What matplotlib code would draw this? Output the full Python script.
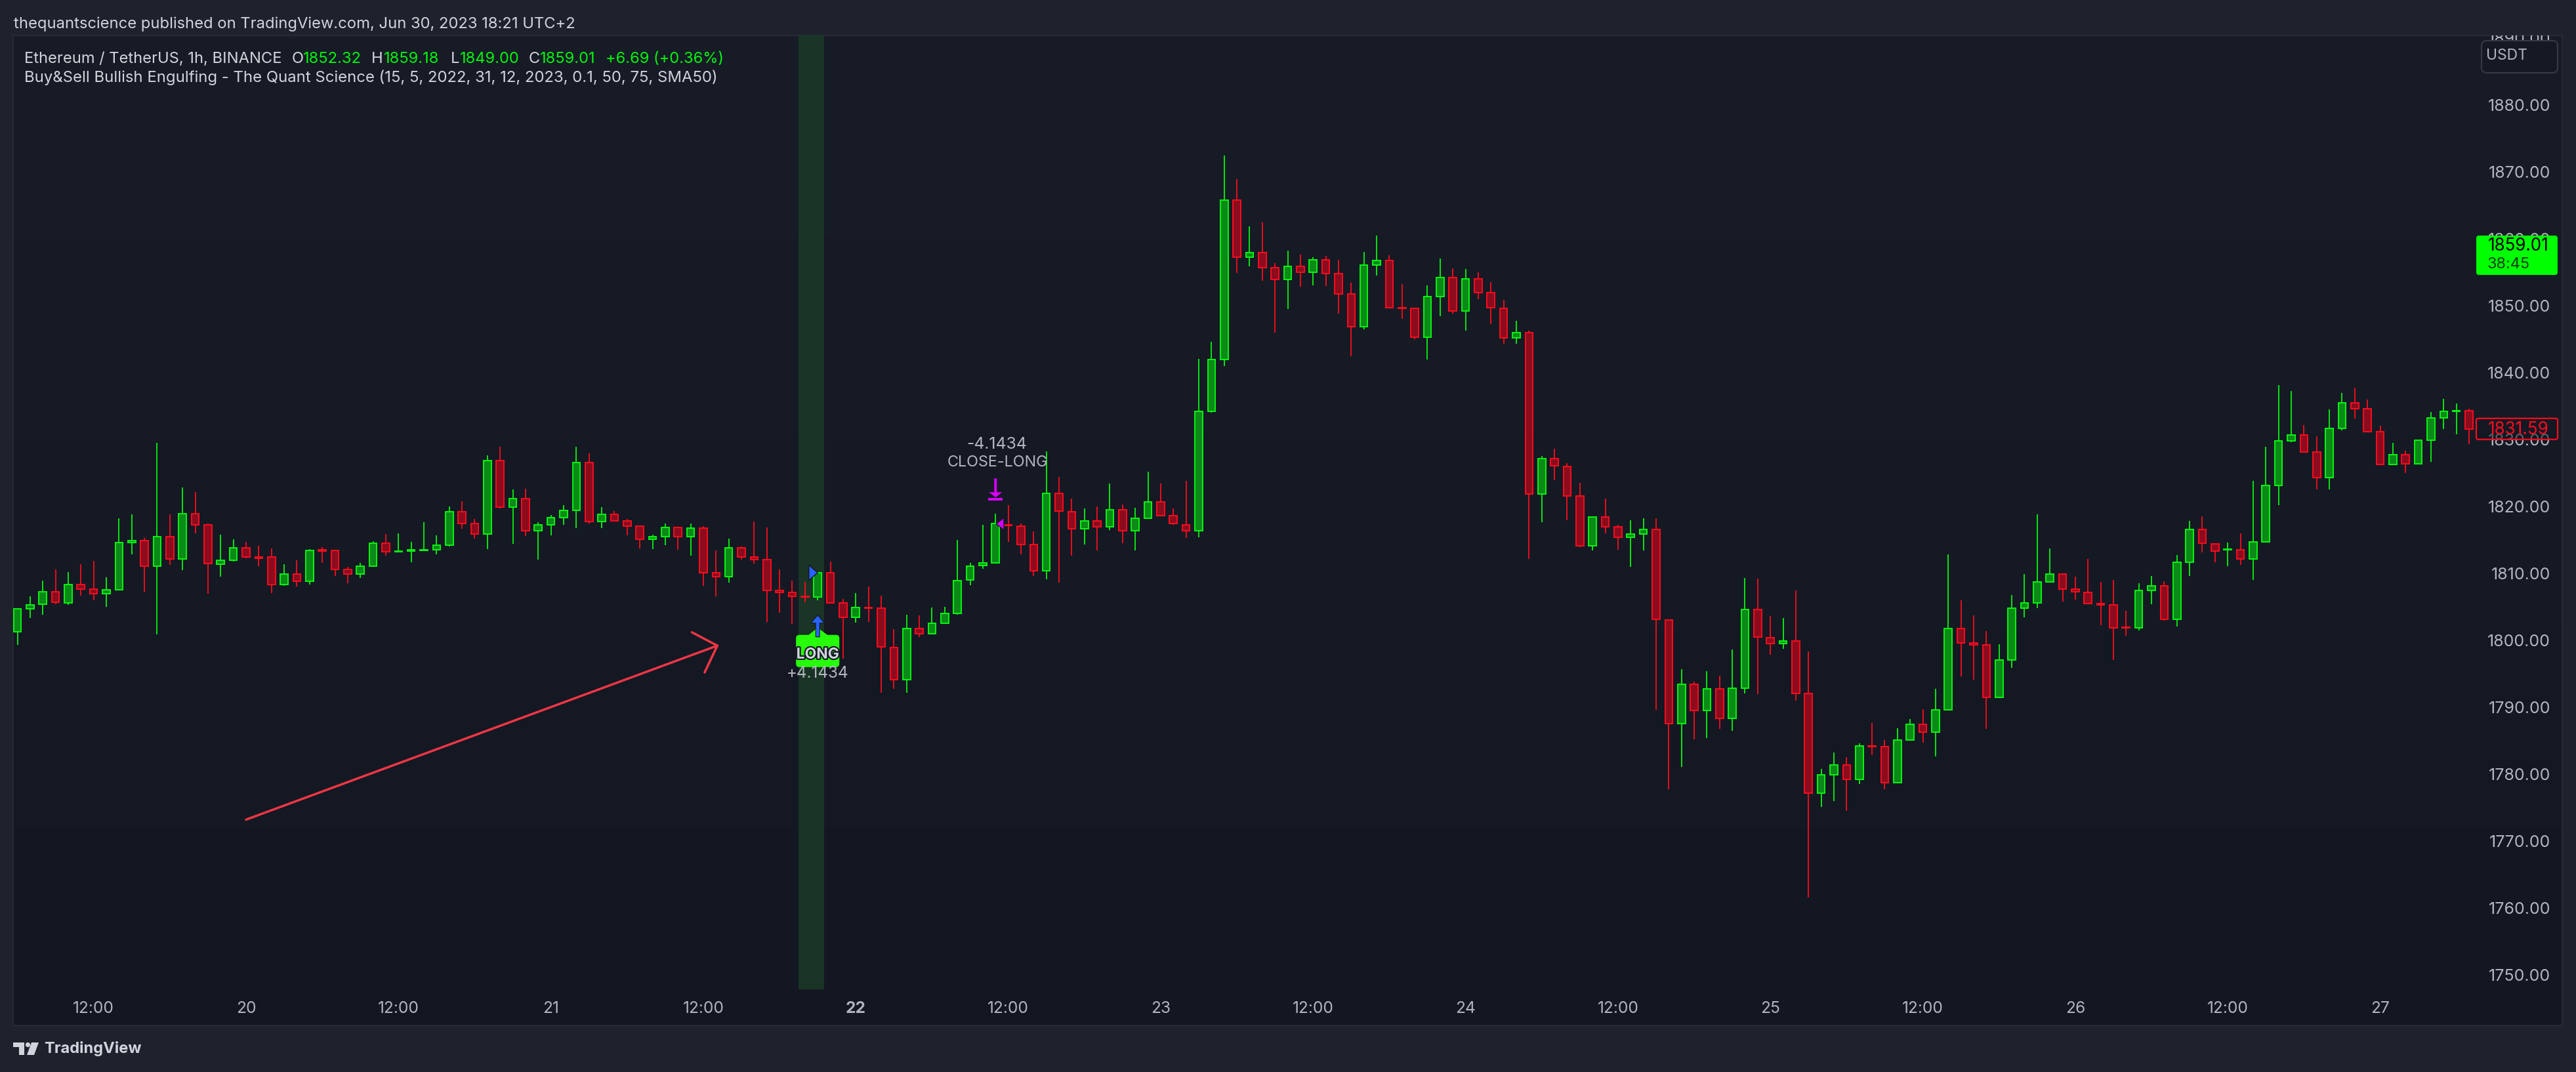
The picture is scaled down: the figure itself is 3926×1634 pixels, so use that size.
import numpy as np
import pandas as pd
import matplotlib
matplotlib.use("Agg")
import matplotlib.pyplot as plt
import matplotlib.patches as mpatches
import matplotlib.transforms as mtransforms
import matplotlib.patheffects as pe
from matplotlib.colors import LinearSegmentedColormap

plt.rcParams["font.family"] = ["Inter", "DejaVu Sans"]

W, H = 3926, 1634

# ETH/USDT 1h candles (Binance), 19 May 06:00 -> 27 May 07:00, UTC+2
times = pd.date_range("2023-05-19 06:00", periods=194, freq="h")
opens = [
    1801.3, 1804.7, 1805.4, 1807.3, 1805.6, 1808.3, 1807.6, 1807.0, 1807.5, 1814.6, 1814.9, 1811.1,
    1815.5, 1812.2, 1818.9, 1817.3, 1811.4, 1812.0, 1813.8, 1812.4, 1812.4, 1808.3, 1809.9, 1808.8,
    1813.5, 1813.4, 1810.6, 1809.9, 1811.1, 1814.5, 1813.2, 1813.3, 1813.4, 1813.5, 1814.2, 1819.2,
    1817.4, 1815.9, 1826.9, 1819.9, 1821.2, 1816.4, 1817.3, 1818.3, 1819.4, 1826.6, 1817.7, 1818.8,
    1817.8, 1817.1, 1815.1, 1815.5, 1816.9, 1815.5, 1816.8, 1810.1, 1809.5, 1813.8, 1812.4, 1812.1,
    1807.4, 1807.2, 1806.6, 1806.5, 1810.1, 1805.6, 1803.4, 1804.9, 1804.8, 1798.9, 1794.1, 1801.8,
    1801.0, 1802.5, 1804.0, 1809.0, 1811.2, 1811.6, 1817.3, 1817.1, 1814.3, 1810.4, 1822.0, 1819.2,
    1816.7, 1817.8, 1817.0, 1819.5, 1816.4, 1818.2, 1820.7, 1818.6, 1817.3, 1816.4, 1834.2, 1842.0,
    1865.8, 1857.3, 1857.9, 1855.7, 1853.9, 1855.9, 1855.0, 1856.9, 1854.8, 1851.8, 1846.9, 1856.1,
    1856.8, 1849.7, 1849.6, 1845.3, 1851.4, 1854.2, 1849.2, 1854.0, 1852.0, 1849.6, 1845.2, 1846.0,
    1821.9, 1827.2, 1826.0, 1821.6, 1814.1, 1818.4, 1817.0, 1815.4, 1815.9, 1816.6, 1803.0, 1787.5,
    1793.4, 1789.5, 1792.7, 1788.3, 1792.8, 1804.6, 1800.4, 1799.5, 1799.9, 1792.1, 1777.2, 1779.9,
    1781.4, 1779.2, 1784.2, 1784.1, 1778.7, 1785.1, 1787.4, 1786.3, 1789.6, 1801.8, 1799.6, 1799.3,
    1791.5, 1797.1, 1804.8, 1805.6, 1808.7, 1809.9, 1807.6, 1807.2, 1805.5, 1805.3, 1802.0, 1801.9,
    1807.4, 1808.1, 1803.1, 1811.7, 1816.6, 1814.4, 1813.5, 1813.5, 1812.2, 1814.7, 1823.1, 1829.8,
    1830.7, 1828.1, 1824.3, 1831.7, 1835.5, 1834.6, 1831.2, 1826.3, 1827.7, 1826.4, 1829.9, 1833.2,
    1834.2, 1834.3,
]
highs = [
    1804.7, 1806.6, 1808.9, 1810.6, 1810.2, 1811.4, 1811.9, 1809.4, 1818.2, 1818.8, 1815.3, 1829.5,
    1818.8, 1822.8, 1822.2, 1817.4, 1815.8, 1815.1, 1814.7, 1814.1, 1813.7, 1811.4, 1812.0, 1813.6,
    1813.9, 1813.5, 1811.0, 1811.6, 1814.8, 1815.9, 1816.0, 1814.7, 1817.6, 1815.7, 1820.0, 1820.8,
    1818.1, 1827.6, 1828.9, 1822.5, 1822.6, 1817.6, 1818.7, 1820.2, 1828.9, 1827.9, 1819.9, 1819.3,
    1818.1, 1817.2, 1815.8, 1817.4, 1817.0, 1817.4, 1817.1, 1813.4, 1815.2, 1814.0, 1817.7, 1816.9,
    1810.6, 1808.9, 1808.7, 1810.2, 1811.8, 1806.2, 1807.1, 1808.0, 1806.7, 1801.7, 1803.8, 1803.7,
    1804.9, 1805.0, 1815.0, 1811.6, 1817.3, 1818.9, 1820.2, 1817.4, 1816.3, 1828.2, 1824.4, 1821.2,
    1819.7, 1820.0, 1823.4, 1820.3, 1819.8, 1825.2, 1823.4, 1819.7, 1823.8, 1842.1, 1844.6, 1872.4,
    1868.9, 1861.9, 1862.4, 1856.4, 1858.2, 1857.6, 1857.3, 1857.4, 1856.9, 1853.4, 1858.0, 1860.5,
    1857.5, 1853.2, 1849.7, 1853.0, 1857.1, 1855.6, 1855.5, 1855.0, 1853.5, 1850.9, 1847.7, 1846.3,
    1827.5, 1828.6, 1826.5, 1823.5, 1818.4, 1821.2, 1817.3, 1817.9, 1818.2, 1818.2, 1803.1, 1795.7,
    1793.8, 1795.4, 1794.7, 1798.6, 1809.3, 1809.2, 1803.6, 1803.3, 1807.4, 1798.3, 1780.8, 1783.2,
    1782.5, 1784.6, 1787.6, 1785.1, 1786.9, 1788.2, 1789.7, 1792.7, 1812.8, 1806.0, 1803.7, 1801.4,
    1799.4, 1806.8, 1809.9, 1818.8, 1813.7, 1810.0, 1809.5, 1812.2, 1808.7, 1809.0, 1804.4, 1808.5,
    1809.6, 1808.8, 1812.7, 1817.8, 1818.5, 1814.5, 1814.6, 1816.0, 1823.8, 1828.9, 1838.1, 1837.3,
    1832.2, 1830.5, 1834.5, 1837.0, 1837.7, 1836.0, 1832.1, 1829.5, 1828.3, 1829.9, 1834.1, 1836.1,
    1835.4, 1834.6,
]
lows = [
    1799.3, 1803.3, 1803.8, 1805.4, 1805.3, 1806.7, 1806.0, 1805.0, 1807.4, 1812.8, 1807.3, 1800.9,
    1811.3, 1810.5, 1816.0, 1807.0, 1809.5, 1811.8, 1812.3, 1811.1, 1807.1, 1808.1, 1808.0, 1808.3,
    1811.6, 1809.6, 1808.5, 1809.3, 1811.0, 1812.6, 1813.1, 1811.7, 1813.4, 1812.8, 1814.0, 1816.7,
    1815.2, 1813.6, 1819.7, 1814.4, 1815.6, 1812.1, 1815.7, 1817.3, 1816.8, 1817.4, 1816.8, 1817.7,
    1815.7, 1813.7, 1813.6, 1814.2, 1813.5, 1812.6, 1808.1, 1806.6, 1808.6, 1812.1, 1811.5, 1802.7,
    1804.1, 1802.4, 1805.7, 1806.0, 1805.6, 1797.3, 1802.6, 1802.7, 1792.2, 1792.7, 1792.2, 1800.5,
    1800.9, 1802.5, 1803.8, 1808.2, 1810.7, 1811.5, 1814.7, 1812.8, 1809.6, 1809.1, 1808.6, 1812.6,
    1814.3, 1813.4, 1816.5, 1814.5, 1813.4, 1818.1, 1818.6, 1817.3, 1815.3, 1815.4, 1834.0, 1841.0,
    1854.9, 1855.9, 1853.7, 1846.0, 1849.5, 1852.8, 1853.0, 1852.9, 1848.8, 1842.4, 1846.5, 1854.5,
    1849.6, 1848.0, 1845.0, 1842.0, 1848.4, 1848.8, 1846.3, 1851.0, 1847.3, 1844.3, 1844.3, 1812.2,
    1817.6, 1823.9, 1817.9, 1813.9, 1813.4, 1816.0, 1813.5, 1811.0, 1813.4, 1789.6, 1777.7, 1781.1,
    1785.2, 1785.4, 1786.8, 1786.5, 1792.1, 1792.0, 1797.8, 1798.7, 1791.0, 1761.6, 1775.1, 1776.0,
    1774.5, 1778.5, 1782.8, 1777.7, 1778.6, 1785.0, 1784.7, 1782.6, 1789.5, 1794.6, 1794.1, 1786.8,
    1791.4, 1795.9, 1803.4, 1804.8, 1808.6, 1805.8, 1806.1, 1805.4, 1802.3, 1797.1, 1800.7, 1801.5,
    1805.4, 1802.9, 1802.1, 1809.6, 1813.1, 1811.7, 1811.1, 1811.3, 1809.0, 1814.6, 1820.2, 1829.6,
    1828.0, 1822.5, 1822.5, 1831.4, 1833.1, 1831.1, 1826.2, 1826.2, 1825.0, 1826.3, 1826.7, 1831.6,
    1830.8, 1829.3,
]
closes = [
    1804.7, 1805.3, 1807.3, 1805.7, 1808.3, 1807.6, 1807.0, 1807.5, 1814.6, 1814.9, 1811.1, 1815.5,
    1812.2, 1818.9, 1817.3, 1811.5, 1812.0, 1813.8, 1812.4, 1812.3, 1808.3, 1809.9, 1808.8, 1813.4,
    1813.3, 1810.6, 1809.9, 1811.1, 1814.5, 1813.2, 1813.3, 1813.5, 1813.5, 1814.2, 1819.2, 1817.4,
    1815.9, 1826.9, 1819.9, 1821.2, 1816.4, 1817.3, 1818.3, 1819.4, 1826.6, 1817.7, 1818.8, 1817.8,
    1817.1, 1815.1, 1815.5, 1816.9, 1815.5, 1816.8, 1810.1, 1809.5, 1813.8, 1812.4, 1812.1, 1807.4,
    1807.2, 1806.6, 1806.5, 1810.1, 1805.6, 1803.4, 1804.9, 1804.8, 1799.0, 1794.1, 1801.8, 1801.0,
    1802.5, 1804.0, 1808.9, 1811.1, 1811.6, 1817.4, 1817.2, 1814.3, 1810.4, 1822.0, 1819.3, 1816.7,
    1817.8, 1817.0, 1819.5, 1816.4, 1818.2, 1820.7, 1818.6, 1817.4, 1816.4, 1834.2, 1842.0, 1865.8,
    1857.3, 1857.9, 1855.7, 1853.9, 1855.9, 1855.0, 1856.9, 1854.8, 1851.8, 1846.9, 1856.1, 1856.8,
    1849.7, 1849.6, 1845.3, 1851.4, 1854.2, 1849.2, 1854.0, 1852.0, 1849.7, 1845.2, 1846.0, 1821.9,
    1827.2, 1826.1, 1821.6, 1814.1, 1818.4, 1817.0, 1815.4, 1815.9, 1816.6, 1803.1, 1787.5, 1793.4,
    1789.5, 1792.7, 1788.3, 1792.8, 1804.6, 1800.5, 1799.5, 1799.9, 1792.1, 1777.2, 1779.9, 1781.4,
    1779.2, 1784.2, 1784.1, 1778.7, 1785.1, 1787.4, 1786.3, 1789.6, 1801.8, 1799.6, 1799.3, 1791.5,
    1797.1, 1804.8, 1805.6, 1808.7, 1809.9, 1807.6, 1807.3, 1805.5, 1805.3, 1801.9, 1801.9, 1807.4,
    1808.1, 1803.1, 1811.7, 1816.6, 1814.5, 1813.3, 1813.6, 1812.2, 1814.7, 1823.1, 1829.8, 1830.7,
    1828.1, 1824.3, 1831.7, 1835.5, 1834.6, 1831.2, 1826.3, 1827.7, 1826.4, 1829.9, 1833.2, 1834.2,
    1834.3, 1831.6,
]

price_ticks = list(range(1750, 1900, 10))

# live bar shown in the legend / price scale
cur_open, cur_high, cur_low, cur_close = 1852.32, 1859.18, 1849.00, 1859.01
cur_change, cur_pct = 6.69, 0.36
countdown = "38:45"
last_visible = 1831.59

# strategy signals
signal_bars = [62, 63]
entry_idx, exit_idx = 63, 77
trade_profit = 4.1434

# hand drawn arrow (bar index, price)
arrow_tail = (18.0, 1773.2)
arrow_tip = (55.1, 1799.2)
arrow_wings = [(53.1, 1801.2), (54.1, 1795.2)]

GREEN_EDGE, GREEN_FILL = "#08f510", "#0b8a18"
RED_EDGE, RED_FILL = "#f80d1d", "#8c0c1e"
TXT, AXTXT = "#d1d4dc", "#b2b5be"
LIME = "#00f50a"

fig = plt.figure(figsize=(W / 100, H / 100), dpi=100, facecolor="#1e222d")
renderer = fig.canvas.get_renderer()


def rect(l, t, r, b):
    return [l / W, 1 - b / H, (r - l) / W, (b - t) / H]


def size_for(s, width_px, weight="normal"):
    t = fig.text(0, 0, s, fontsize=20, fontweight=weight)
    w = t.get_window_extent(renderer).width
    t.remove()
    return 20 * width_px / w


# pane background
bg = fig.add_axes(rect(20, 54, 3905, 1563), zorder=0)
grad = np.linspace(0, 1, 256).reshape(-1, 1)
bg.imshow(grad, cmap=LinearSegmentedColormap.from_list("pane", ["#181c27", "#131722"]),
          aspect="auto", extent=[0, 1, 0, 1])
bg.set_xticks([])
bg.set_yticks([])
for s in bg.spines.values():
    s.set_color("#2a2e39")
    s.set_linewidth(1.2)

# price pane
ax = fig.add_axes(rect(20, 54, 3770, 1508), zorder=1)
ax.set_facecolor("none")
for s in ax.spines.values():
    s.set_visible(False)
ax.set_xlim(-0.336, 193.36)
ax.set_ylim(1747.84, 1890.39)

x = np.arange(len(opens))
o, h, l, c = map(np.array, (opens, highs, lows, closes))
up = c >= o
edge = np.where(up, GREEN_EDGE, RED_EDGE)
fill = np.where(up, GREEN_FILL, RED_FILL)
body_lo = np.minimum(o, c)
body_h = np.maximum(np.abs(c - o), 0.08)

for i in signal_bars:
    ax.axvspan(i - 0.5, i + 0.5, color="#1b3a26", alpha=0.85, lw=0, zorder=0.5)

ax.vlines(x, l, h, colors=edge, lw=1.3, zorder=2)
ax.bar(x, body_h, bottom=body_lo, width=0.6, color=fill, edgecolor=edge, linewidth=1.4, zorder=3)

# axes labels
ysize = size_for("1880.00", 95)
xsize = size_for("12:00", 63)
ax.yaxis.tick_right()
ax.set_yticks(price_ticks, [f"{p:.2f}" for p in price_ticks])
ax.tick_params(axis="y", length=0, pad=117 * 0.72, labelsize=ysize, labelcolor=AXTXT)
for lab in ax.get_yticklabels():
    lab.set_ha("right")
top_lab = ax.get_yticklabels()[-1]
top_lab.set_clip_on(True)
top_lab.set_clip_box(bg.bbox)

tick_idx = [i for i, t in enumerate(times) if t.hour in (0, 12)]
tick_lab = [str(times[i].day) if times[i].hour == 0 else "12:00" for i in tick_idx]
ax.set_xticks(tick_idx, tick_lab)
ax.tick_params(axis="x", length=0, pad=30 * 0.72, labelsize=xsize, labelcolor=AXTXT)
for i, lab in zip(tick_idx, ax.get_xticklabels()):
    lab.set_va("center")
    if times[i].hour == 0 and times[i].dayofweek == 0:
        lab.set_fontweight("bold")


# markers anchored to candles, shapes in pixels (y down)
def px_tr(i, price):
    return mtransforms.Affine2D().scale(1, -1) + mtransforms.ScaledTranslation(i, price, ax.transData)


def px_poly(verts, i, price, color, edgecolor=None, lw=0.0, z=6):
    ax.add_patch(mpatches.Polygon(verts, closed=True, transform=px_tr(i, price), facecolor=color,
                                  edgecolor=edgecolor or color, lw=lw, clip_on=False, zorder=z))


def px_text(i, price, dy, s, width, color, dx=0.0, **kw):
    tr = mtransforms.offset_copy(ax.transData, fig=fig, x=dx, y=-dy, units="dots")
    return ax.text(i, price, s, transform=tr, ha="center", va="center", color=color,
                   fontsize=size_for(s, width), zorder=8, clip_on=False, **kw)


# entry
lo_e = lows[entry_idx]
lbl = mpatches.FancyBboxPatch((-33, 53), 66, 49, boxstyle="round,pad=0,rounding_size=5",
                              transform=px_tr(entry_idx, lo_e), facecolor="#27ff0a", lw=0,
                              clip_on=False, zorder=6)
ax.add_patch(lbl)
px_poly([(-15, 54), (0, 42), (16, 54)], entry_idx, lo_e, "#27ff0a")
px_poly([(0, 23), (10.5, 35), (3, 35), (3, 56), (-3, 56), (-3, 35), (-10.5, 35)],
        entry_idx, lo_e, "#2962ff", edgecolor="#131722", lw=0.8, z=7)
px_text(entry_idx, lo_e, 83, "LONG", 65, TXT, fontweight="bold",
        path_effects=[pe.withStroke(linewidth=3, foreground="#131722")])
px_text(entry_idx, lo_e, 112, f"{trade_profit:+.4f}", 95, AXTXT)
px_poly([(-13.4, -11.6), (0, 0), (-13.4, 11.6)], entry_idx, closes[entry_idx], "#2962ff",
        edgecolor="#131722", lw=1.0, z=7)

# exit
hi_x = highs[exit_idx]
px_poly([(-2, -54), (2, -54), (2, -33), (10, -33), (0, -25), (-10, -33), (-2, -33)],
        exit_idx, hi_x, "#d500f9")
px_poly([(-11, -23.9), (11, -23.9), (11, -20.5), (-11, -20.5)], exit_idx, hi_x, "#d500f9")
px_poly([(1, 0), (12.8, -9.5), (12.8, 9.5)], exit_idx, closes[exit_idx], "#d500f9",
        edgecolor="#131722", lw=1.0, z=7)
px_text(exit_idx, hi_x, -78, "CLOSE-LONG", 154, AXTXT, dx=2.8)
px_text(exit_idx, hi_x, -106, f"{-trade_profit:.4f}", 92, AXTXT, dx=1.8)

# hand drawn red arrow
ax.plot([arrow_tail[0], arrow_tip[0]], [arrow_tail[1], arrow_tip[1]], color="#f23645", lw=2.5,
        solid_capstyle="round", zorder=5)
for wx, wy in arrow_wings:
    ax.plot([wx, arrow_tip[0]], [wy, arrow_tip[1]], color="#f23645", lw=2.5,
            solid_capstyle="round", zorder=5)

# overlay in pixel coordinates
ov = fig.add_axes([0, 0, 1, 1], zorder=5)
ov.set_xlim(0, W)
ov.set_ylim(H, 0)
ov.set_facecolor("none")
ov.axis("off")


def fit_text(x0, x1, y, s, color, weight="normal", size=None):
    t = ov.text(x0, y, s, color=color, fontsize=size or 20, fontweight=weight, ha="left", va="center")
    if size is None:
        w = t.get_window_extent(renderer).width
        t.set_fontsize(20 * (x1 - x0) / w)
    return t


fit_text(21, 875, 37, "thequantscience published on TradingView.com, Jun 30, 2023 18:21 UTC+2", TXT)

leg = fit_text(37, 429, 90, "Ethereum / TetherUS, 1h, BINANCE", TXT)
fs = leg.get_fontsize()
parts = [("O", 445, TXT), (f"{cur_open:.2f}", 462, LIME), ("H", 566, TXT), (f"{cur_high:.2f}", 585, LIME),
         ("L", 687, TXT), (f"{cur_low:.2f}", 701, LIME), ("C", 806, TXT), (f"{cur_close:.2f}", 823, LIME),
         (f"{cur_change:+.2f} ({cur_pct:+.2f}%)", 923, LIME)]
for s, x0, col in parts:
    fit_text(x0, None, 90, s, col, size=fs)
fit_text(37, 1094, 118,
         "Buy&Sell Bullish Engulfing - The Quant Science (15, 5, 2022, 31, 12, 2023, 0.1, 50, 75, SMA50)", TXT)


def ypix(price):
    return H - ax.transData.transform((0, price))[1]


# USDT box
ov.add_patch(mpatches.FancyBboxPatch((3782, 62), 116, 49, boxstyle="round,pad=0,rounding_size=8",
                                     facecolor="#151924", edgecolor="#363a45", lw=1.5))
fit_text(3789, 3852, 85, "USDT", AXTXT)

# last price tag
yc = ypix(cur_close)
ov.add_patch(mpatches.FancyBboxPatch((3774, yc - 15), 124, 60, boxstyle="round,pad=0,rounding_size=4",
                                     facecolor="#00ff00", lw=0))
fit_text(3792, 3885, yc + 1, f"{cur_close:.2f}", "#000000")
fit_text(3791, 3856, yc + 29, countdown, "#0f3d12")

# last visible close tag
yv = ypix(last_visible)
ov.add_patch(mpatches.FancyBboxPatch((3774, yv - 16), 124, 32, boxstyle="round,pad=0,rounding_size=3",
                                     facecolor="#131722", alpha=0.55, lw=0))
ov.add_patch(mpatches.FancyBboxPatch((3774, yv - 16), 124, 32, boxstyle="round,pad=0,rounding_size=3",
                                     facecolor="none", edgecolor="#f80d1d", lw=1.6))
fit_text(3792, 3885, yv + 1, f"{last_visible:.2f}", "#f80d1d")

# TradingView logo
ov.add_patch(mpatches.Rectangle((20, 1589), 17, 7, color=TXT, lw=0))
ov.add_patch(mpatches.Rectangle((29, 1589), 8, 19, color=TXT, lw=0))
ov.add_patch(mpatches.Circle((42.5, 1592.5), 3.6, color=TXT, lw=0))
ov.add_patch(mpatches.Polygon([(48, 1589), (59, 1589), (52, 1608), (41, 1608)], color=TXT, lw=0))
fit_text(67, 216, 1598, "TradingView", TXT, weight="bold")

fig.savefig("out.png", dpi=100, facecolor=fig.get_facecolor())
